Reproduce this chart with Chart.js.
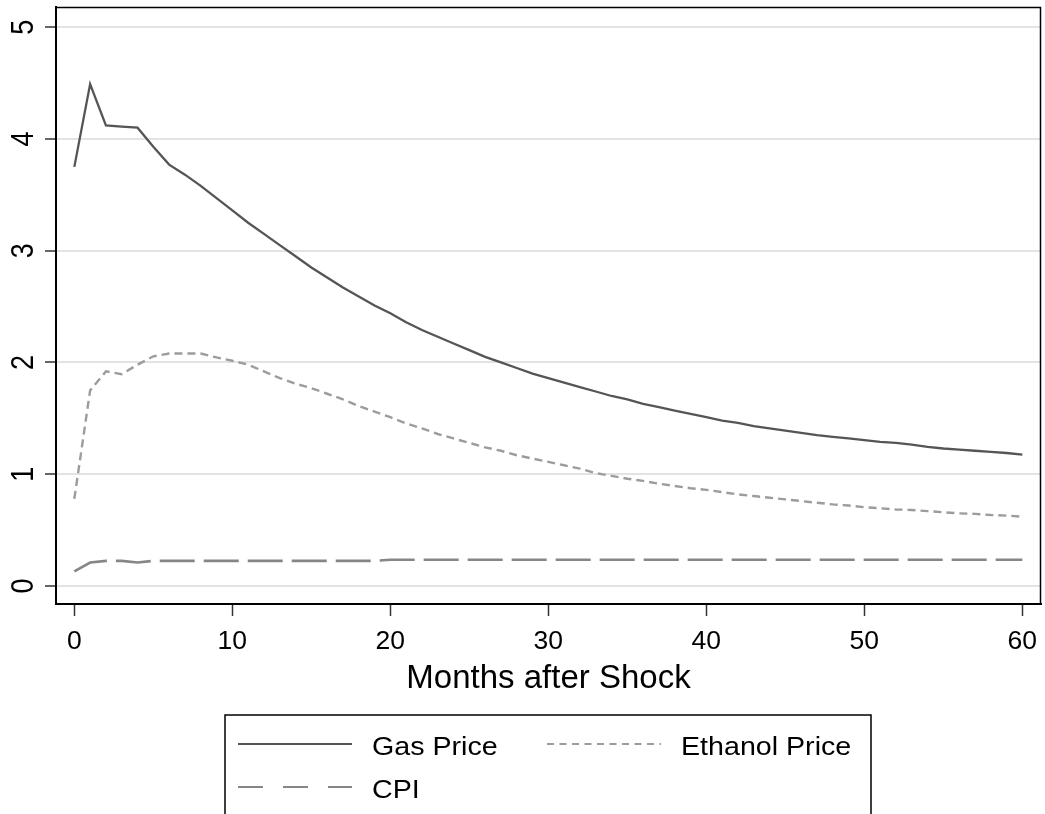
<!DOCTYPE html>
<html>
<head>
<meta charset="utf-8">
<script src="https://cdn.jsdelivr.net/npm/chart.js@4.4.1/dist/chart.umd.min.js"></script>
<style>
  html, body { margin: 0; padding: 0; background: #fff; }
  canvas { display: block; }
</style>
</head>
<body>
<canvas id="chart" width="1045" height="814"></canvas>
<script>
// Impulse responses, months 0..60 after the shock
const months = [0,1,2,3,4,5,6,7,8,9,10,11,12,13,14,15,16,17,18,19,20,
  21,22,23,24,25,26,27,28,29,30,31,32,33,34,35,36,37,38,39,40,
  41,42,43,44,45,46,47,48,49,50,51,52,53,54,55,56,57,58,59,60];

const gasPrice = [3.75,4.49,4.12,4.11,4.10,3.93,3.77,3.68,3.58,3.47,3.36,
  3.25,3.15,3.05,2.95,2.85,2.76,2.67,2.59,2.51,2.44,
  2.36,2.29,2.23,2.17,2.11,2.05,2.00,1.95,1.90,1.86,
  1.82,1.78,1.74,1.70,1.67,1.63,1.60,1.57,1.54,1.51,
  1.48,1.46,1.43,1.41,1.39,1.37,1.35,1.335,1.32,1.305,
  1.29,1.28,1.265,1.245,1.23,1.22,1.21,1.20,1.19,1.175];

const ethanolPrice = [0.78,1.75,1.92,1.895,1.98,2.055,2.08,2.08,2.08,2.045,2.015,
  1.98,1.92,1.86,1.81,1.77,1.72,1.67,1.61,1.56,1.51,
  1.455,1.41,1.36,1.32,1.28,1.24,1.21,1.17,1.14,1.11,
  1.08,1.05,1.01,0.985,0.96,0.94,0.915,0.895,0.875,0.86,
  0.84,0.82,0.805,0.79,0.775,0.76,0.745,0.73,0.72,0.705,
  0.695,0.685,0.68,0.67,0.66,0.65,0.645,0.635,0.63,0.62];

const cpi = [0.13,0.21,0.225,0.225,0.21,0.225,0.225,0.225,0.225,0.225,0.225,
  0.225,0.225,0.225,0.225,0.225,0.225,0.225,0.225,0.225,0.235,
  0.235,0.235,0.235,0.235,0.235,0.235,0.235,0.235,0.235,0.235,
  0.235,0.235,0.235,0.235,0.235,0.235,0.235,0.235,0.235,0.235,
  0.235,0.235,0.235,0.235,0.235,0.235,0.235,0.235,0.235,0.235,
  0.235,0.235,0.235,0.235,0.235,0.235,0.235,0.235,0.235,0.235];

const xTicks = [0, 10, 20, 30, 40, 50, 60];
const yTicks = [0, 1, 2, 3, 4, 5];
const seriesNames = ['Gas Price', 'Ethanol Price', 'CPI'];
const xTitle = 'Months after Shock';

const FONT = '"Liberation Sans", Arial, sans-serif';

function points(values) {
  return months.map((m, i) => ({ x: m, y: values[i] }));
}

// Legend swatch styling (drawn inside the boxed legend below the axis title)
const legendStyle = [
  { dash: [] },
  { dash: [7, 5.5] },
  { dash: [25, 20] }
];

function stretchedText(ctx, text, x, y, size, sx, align) {
  ctx.save();
  ctx.font = size + 'px ' + FONT;
  ctx.textBaseline = 'alphabetic';
  ctx.textAlign = align || 'left';
  ctx.translate(x, y);
  ctx.scale(sx, 1);
  ctx.fillText(text, 0, 0);
  ctx.restore();
}

const decorations = {
  id: 'decorations',
  afterDraw(chart) {
    const ctx = chart.ctx;
    const area = chart.chartArea;
    const xs = chart.scales.x;
    const ys = chart.scales.y;

    // top and right edges of the plot frame
    ctx.save();
    ctx.strokeStyle = '#000';
    ctx.lineWidth = 1.5;
    ctx.beginPath();
    ctx.moveTo(area.left, area.top + 0.5);
    ctx.lineTo(area.right - 0.5, area.top + 0.5);
    ctx.lineTo(area.right - 0.5, area.bottom);
    ctx.stroke();
    ctx.restore();

    ctx.fillStyle = '#000';

    // rotated y tick labels
    yTicks.forEach(v => {
      const py = ys.getPixelForValue(v);
      ctx.save();
      ctx.font = '27px ' + FONT;
      ctx.textAlign = 'center';
      ctx.textBaseline = 'alphabetic';
      ctx.translate(33, py);
      ctx.rotate(-Math.PI / 2);
      ctx.scale(1, 1.18);
      ctx.fillText(String(v), 0, 0);
      ctx.restore();
    });

    // x tick labels
    xTicks.forEach(v => {
      stretchedText(ctx, String(v), xs.getPixelForValue(v), 649, 26.5, 1, 'center');
    });

    // x axis title
    stretchedText(ctx, xTitle, (area.left + area.right) / 2, 688, 33, 1, 'center');

    // legend box
    const box = { left: 225, top: 715, right: 871 };
    ctx.save();
    ctx.strokeStyle = '#000';
    ctx.lineWidth = 1.5;
    ctx.beginPath();
    ctx.moveTo(box.left, chart.height + 5);
    ctx.lineTo(box.left, box.top);
    ctx.lineTo(box.right, box.top);
    ctx.lineTo(box.right, chart.height + 5);
    ctx.stroke();
    ctx.restore();

    const slots = [
      { x: 238, y: 744 },
      { x: 547, y: 744 },
      { x: 238, y: 787 }
    ];
    chart.data.datasets.forEach((ds, i) => {
      const s = slots[i];
      ctx.save();
      ctx.strokeStyle = ds.borderColor;
      ctx.lineWidth = 2.2;
      ctx.setLineDash(legendStyle[i].dash);
      ctx.beginPath();
      ctx.moveTo(s.x, s.y);
      ctx.lineTo(s.x + 114, s.y);
      ctx.stroke();
      ctx.restore();
      ctx.fillStyle = '#000';
      stretchedText(ctx, ds.label, s.x + 134, s.y + 11, 26.5, 1.08, 'left');
    });
  }
};

new Chart(document.getElementById('chart'), {
  type: 'line',
  data: {
    datasets: [
      {
        label: seriesNames[0],
        data: points(gasPrice),
        borderColor: '#555555',
        borderWidth: 2.3,
        pointRadius: 0,
        tension: 0
      },
      {
        label: seriesNames[1],
        data: points(ethanolPrice),
        borderColor: '#9c9c9c',
        borderWidth: 2.4,
        borderDash: [8, 5],
        pointRadius: 0,
        tension: 0
      },
      {
        label: seriesNames[2],
        data: points(cpi),
        borderColor: '#868686',
        borderWidth: 2.6,
        borderDash: [35, 9],
        pointRadius: 0,
        tension: 0
      }
    ]
  },
  options: {
    responsive: false,
    animation: false,
    devicePixelRatio: 1,
    layout: { padding: { left: 0, right: 4, top: 7, bottom: 0 } },
    plugins: {
      legend: { display: false },
      tooltip: { enabled: false }
    },
    scales: {
      x: {
        type: 'linear',
        min: -1.16,
        max: 61.18,
        afterBuildTicks(scale) { scale.ticks = xTicks.map(v => ({ value: v })); },
        afterFit(scale) { scale.height = 210; },
        ticks: { display: false },
        grid: {
          drawOnChartArea: false,
          drawTicks: true,
          tickLength: 12,
          tickColor: '#333',
          tickWidth: 1.5
        },
        border: { color: '#000', width: 2 }
      },
      y: {
        type: 'linear',
        min: -0.161,
        max: 5.18,
        afterBuildTicks(scale) { scale.ticks = yTicks.map(v => ({ value: v })); },
        afterFit(scale) { scale.width = 56; },
        ticks: { display: false },
        grid: {
          color: '#e3e3e3',
          lineWidth: 2,
          drawTicks: true,
          tickLength: 11,
          tickColor: '#333',
          tickWidth: 1.5
        },
        border: { color: '#000', width: 2 }
      }
    }
  },
  plugins: [decorations]
});
</script>
</body>
</html>
